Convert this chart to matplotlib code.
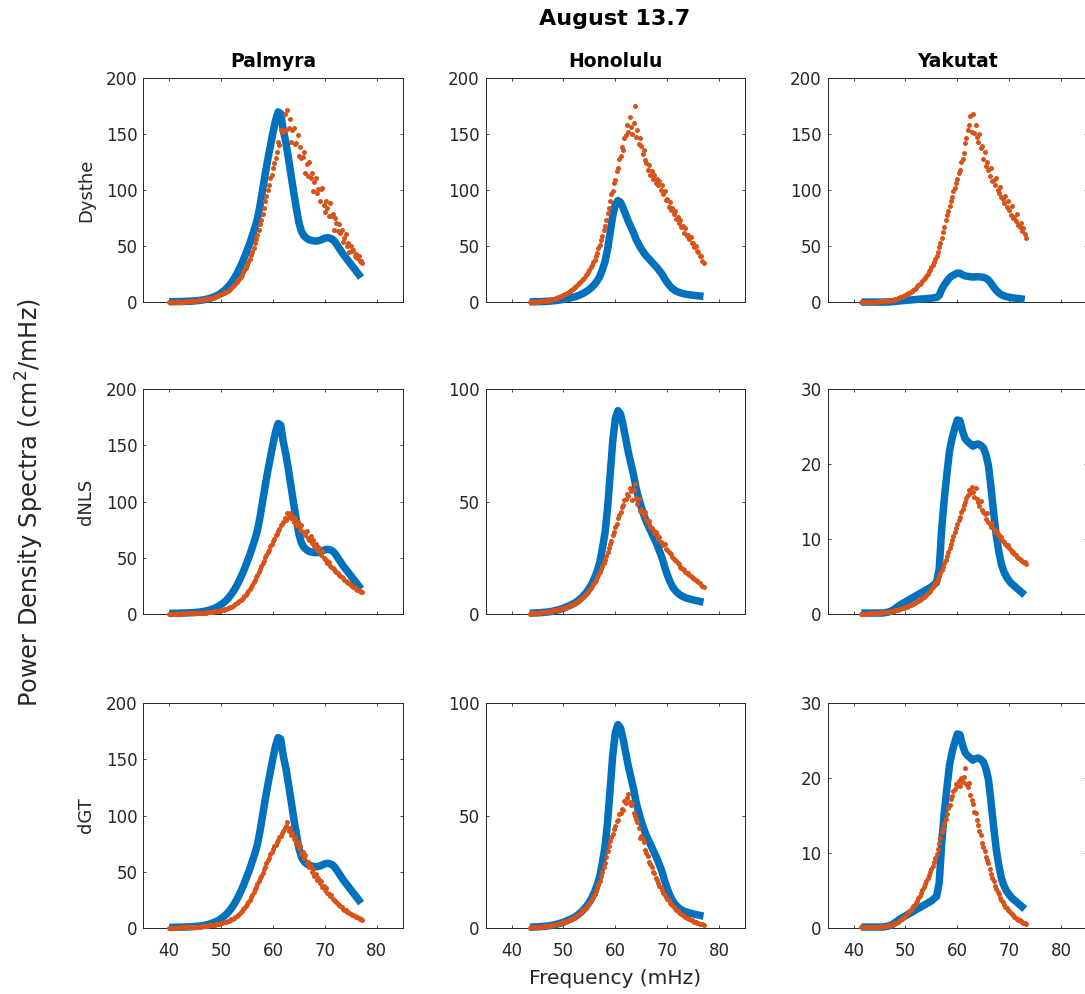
import numpy as np
import matplotlib
matplotlib.use("Agg")
import matplotlib.pyplot as plt

plt.rcParams["font.family"] = ["DejaVu Sans"]

# ---------------------------------------------------------------- labels
figure_title = "August 13.7"
stations = ["Palmyra", "Honolulu", "Yakutat"]
models = ["Dysthe", "dNLS", "dGT"]
x_label = "Frequency (mHz)"
y_label = r"Power Density Spectra (cm$^2$/mHz)"
x_ticks = [40, 50, 60, 70, 80]

# y-axis upper limit and tick spacing, rows = models, columns = stations
y_max = [[200, 200, 200],
         [200, 100, 30],
         [200, 100, 30]]
y_step = [[50, 50, 50],
          [50, 50, 10],
          [50, 50, 10]]

# ---------------------------------------------------------------- observed spectra (0.5 mHz grid)
obs_step = 0.5
palmyra_obs_start = 40.0
palmyra_obs = [
    0.4, 0.4, 0.5, 0.5, 0.6, 0.6, 0.7, 0.8, 0.9, 1.0,
    1.2, 1.4, 1.7, 2.0, 2.5, 3.0, 3.7, 4.5, 5.5, 6.7,
    8.2, 10.0, 12.0, 14.5, 17.5, 21.0, 25.0, 29.5, 34.5, 40.0,
    46.0, 52.0, 59.0, 66.0, 74.0, 86.0, 100.0, 114.0, 127.0, 139.0,
    151.0, 162.0, 169.5, 168.0, 153.0, 142.0, 128.0, 113.0, 98.0, 84.0,
    71.0, 63.0, 59.0, 57.0, 55.5, 55.0, 54.5, 54.5, 55.0, 56.0,
    57.0, 57.5, 57.0, 56.0, 53.5, 50.0, 46.5, 43.0, 40.0, 37.0,
    34.0, 31.0, 28.0, 25.0, 22.0]
honolulu_obs_start = 43.5
honolulu_obs = [
    0.3, 0.3, 0.4, 0.4, 0.5, 0.6, 0.7, 0.8, 1.0, 1.2,
    1.5, 1.8, 2.1, 2.5, 3.0, 3.5, 4.0, 4.6, 5.3, 6.2,
    7.2, 8.4, 9.8, 11.5, 13.5, 16.0, 19.0, 23.0, 29.0, 36.0,
    47.0, 62.0, 77.0, 87.0, 90.5, 89.0, 84.0, 78.0, 72.0, 67.0,
    62.0, 56.0, 51.5, 47.5, 44.0, 41.0, 38.5, 36.0, 33.5, 31.0,
    28.0, 25.0, 21.0, 17.5, 14.5, 12.2, 10.5, 9.3, 8.4, 7.7,
    7.2, 6.8, 6.5, 6.2, 5.9, 5.7, 5.4, 5.2]
yakutat_obs_start = 41.5
yakutat_obs = [
    0.1, 0.1, 0.1, 0.1, 0.1, 0.1, 0.1, 0.1, 0.1, 0.15,
    0.2, 0.3, 0.45, 0.7, 0.95, 1.2, 1.4, 1.6, 1.8, 2.0,
    2.2, 2.4, 2.6, 2.8, 3.0, 3.2, 3.4, 3.6, 3.9, 4.2,
    6.0, 11.5, 15.5, 18.8, 21.8, 23.5, 24.8, 25.9, 25.8, 24.4,
    23.4, 23.0, 22.7, 22.4, 22.6, 22.7, 22.5, 22.2, 21.3, 19.8,
    16.8, 13.5, 10.5, 8.3, 6.6, 5.6, 4.9, 4.4, 4.0, 3.7,
    3.4, 3.1, 2.8, 2.5]

# ---------------------------------------------------------------- modelled spectra (0.25 mHz grid)
model_step = 0.25

palmyra_model_start = 40.0
palmyra_dysthe = [
    0.2, 0.2, 0.2, 0.3, 0.3, 0.3, 0.4, 0.4, 0.4, 0.5, 0.5, 0.6,
    0.6, 0.7, 0.7, 0.8, 0.9, 1.0, 1.1, 1.2, 1.3, 1.5, 1.6, 1.8,
    1.9, 2.1, 2.3, 2.5, 2.7, 3.0, 3.2, 3.5, 3.8, 4.1, 4.5, 4.8,
    5.2, 5.6, 6.1, 6.5, 7.0, 7.6, 8.2, 8.8, 9.5, 10.3, 11.2, 12.0,
    13.0, 14.2, 15.4, 16.6, 18.0, 19.5, 21.0, 22.5, 24.5, 26.5, 28.5, 30.5,
    33.0, 35.5, 38.5, 42.0, 45.0, 48.5, 52.5, 56.5, 60.0, 64.0, 69.5, 73.5,
    79.0, 83.5, 90.0, 94.5, 100.0, 104.5, 110.5, 113.0, 119.5, 124.0, 128.5, 133.5,
    143.0, 140.0, 153.0, 153.5, 152.0, 168.0, 153.0, 171.0, 155.0, 163.0, 143.0, 153.0,
    155.0, 141.0, 142.0, 149.0, 130.0, 138.5, 128.5, 129.0, 134.0, 115.0, 123.5, 112.0,
    125.0, 111.0, 115.5, 99.0, 107.0, 111.0, 97.5, 101.0, 90.0, 101.0, 101.5, 87.0,
    80.0, 90.0, 84.0, 77.0, 88.0, 77.0, 78.5, 64.0, 75.0, 70.5, 63.0, 70.0,
    61.5, 64.5, 53.5, 57.5, 61.0, 50.0, 53.0, 44.5, 50.5, 46.0, 46.5, 41.5,
    43.0, 39.5, 41.0, 36.5, 36.5, 34.5]
palmyra_dnls = [
    0.1, 0.1, 0.1, 0.1, 0.15, 0.15, 0.2, 0.2, 0.2, 0.2, 0.25, 0.3,
    0.3, 0.3, 0.35, 0.4, 0.4, 0.45, 0.5, 0.55, 0.6, 0.65, 0.7, 0.75,
    0.8, 0.9, 0.95, 1.0, 1.1, 1.2, 1.35, 1.5, 1.6, 1.75, 1.9, 2.05,
    2.2, 2.4, 2.6, 2.8, 3.0, 3.3, 3.6, 3.9, 4.3, 4.8, 5.3, 5.8,
    6.3, 7.0, 7.7, 8.4, 9.2, 10.1, 11.0, 12.0, 13.0, 14.3, 15.7, 17.1,
    18.5, 20.3, 22.2, 24.0, 26.0, 28.5, 30.5, 32.5, 35.0, 37.0, 40.0, 42.5,
    45.0, 47.0, 50.5, 52.5, 55.0, 57.0, 60.5, 62.0, 65.0, 66.5, 70.0, 71.5,
    74.0, 75.5, 79.0, 80.0, 82.0, 85.5, 84.0, 89.5, 86.0, 90.0, 85.0, 87.5,
    82.0, 85.0, 79.0, 81.5, 78.0, 75.0, 79.5, 73.0, 72.5, 70.0, 74.0, 67.5,
    66.0, 69.5, 63.0, 65.5, 60.5, 62.0, 57.0, 59.5, 55.0, 52.5, 56.0, 50.0,
    49.0, 47.5, 45.5, 46.5, 43.0, 42.0, 40.5, 39.5, 38.5, 37.0, 36.0, 34.5,
    33.5, 32.5, 31.5, 30.5, 29.5, 28.5, 27.5, 27.0, 26.0, 25.0, 24.0, 23.5,
    22.5, 21.5, 21.0, 20.0, 19.5, 19.0]
palmyra_dgt = [
    0.1, 0.1, 0.15, 0.15, 0.2, 0.2, 0.25, 0.25, 0.3, 0.3, 0.35, 0.35,
    0.4, 0.45, 0.5, 0.55, 0.6, 0.65, 0.7, 0.75, 0.8, 0.9, 0.95, 1.0,
    1.1, 1.2, 1.35, 1.45, 1.6, 1.75, 1.9, 2.05, 2.2, 2.4, 2.6, 2.8,
    3.0, 3.25, 3.5, 3.75, 4.0, 4.4, 4.8, 5.1, 5.5, 6.0, 6.5, 7.0,
    7.5, 8.2, 9.0, 9.7, 10.5, 11.6, 12.7, 13.8, 15.0, 16.5, 18.0, 19.5,
    21.0, 23.0, 25.0, 27.0, 29.0, 31.5, 34.5, 36.5, 39.0, 41.5, 44.0, 46.5,
    49.0, 52.0, 54.5, 57.5, 60.0, 62.5, 65.5, 67.5, 70.0, 72.5, 74.0, 76.5,
    78.0, 80.5, 82.0, 84.5, 86.0, 89.0, 91.0, 94.5, 86.0, 88.5, 83.0, 84.5,
    79.0, 80.5, 74.5, 76.0, 71.0, 72.5, 66.0, 67.5, 62.0, 64.5, 57.5, 59.0,
    54.0, 55.5, 50.0, 52.5, 46.0, 47.5, 43.0, 44.5, 40.0, 41.5, 36.5, 37.0,
    34.0, 35.5, 31.0, 30.5, 28.5, 29.0, 25.5, 25.0, 23.5, 23.0, 21.0, 20.0,
    19.0, 18.5, 17.0, 16.0, 15.5, 14.5, 13.8, 13.0, 12.5, 11.8, 11.0, 10.4,
    9.8, 9.2, 8.6, 8.0, 7.5, 7.0]

honolulu_model_start = 43.5
honolulu_dysthe = [
    0.2, 0.25,
    0.3, 0.35, 0.4, 0.5, 0.6, 0.7, 0.8, 0.9, 1.0, 1.15, 1.35, 1.5,
    1.7, 1.95, 2.2, 2.45, 2.7, 3.1, 3.4, 3.8, 4.2, 4.7, 5.2, 5.7,
    6.3, 6.9, 7.6, 8.3, 9.0, 9.9, 10.7, 11.6, 12.5, 13.6, 14.7, 15.8,
    17.0, 18.2, 19.5, 20.7, 22.0, 23.8, 25.5, 27.3, 29.0, 31.0, 33.5, 35.5,
    38.0, 41.5, 44.0, 48.0, 51.0, 55.5, 59.0, 64.0, 68.0, 73.0, 79.5, 84.0,
    90.0, 96.0, 99.5, 106.0, 109.0, 116.5, 120.0, 128.0, 130.0, 138.0, 135.5, 146.0,
    149.0, 158.0, 152.0, 165.0, 156.0, 150.0, 160.0, 175.0, 147.0, 153.0, 141.0, 146.0,
    139.0, 132.0, 136.0, 127.0, 124.0, 118.0, 122.0, 113.0, 117.0, 110.0, 113.0, 106.0,
    110.0, 104.0, 108.0, 100.0, 104.0, 96.0, 99.0, 91.0, 92.0, 85.0, 89.0, 82.0,
    84.0, 79.0, 81.0, 74.0, 76.0, 71.0, 73.0, 67.0, 68.0, 62.0, 66.0, 59.0,
    60.0, 56.0, 58.0, 53.0, 52.5, 49.0, 50.5, 46.0, 45.0, 41.5, 41.0, 37.0,
    34.5]
honolulu_dnls = [
    0.1, 0.15,
    0.2, 0.25, 0.3, 0.35, 0.4, 0.5, 0.55, 0.6, 0.7, 0.75, 0.85, 0.9,
    1.0, 1.1, 1.25, 1.35, 1.5, 1.6, 1.75, 1.85, 2.0, 2.15, 2.3, 2.45,
    2.6, 2.8, 3.0, 3.2, 3.4, 3.7, 4.0, 4.2, 4.5, 4.9, 5.2, 5.6,
    6.0, 6.5, 7.0, 7.5, 8.0, 8.6, 9.2, 9.8, 10.5, 11.3, 12.2, 13.1,
    14.0, 15.1, 16.2, 17.4, 18.5, 19.9, 21.2, 22.6, 24.0, 25.8, 27.4, 29.3,
    31.0, 32.6, 34.9, 36.5, 38.5, 40.0, 42.5, 43.8, 45.5, 47.5, 48.5, 50.5,
    51.0, 53.5, 52.5, 56.0, 54.5, 50.5, 55.0, 58.0, 51.5, 49.0, 51.0, 46.0,
    46.5, 45.0, 44.0, 45.5, 42.0, 40.5, 41.5, 38.5, 38.0, 37.5, 36.0, 36.5,
    35.0, 33.5, 34.0, 32.0, 31.5, 30.5, 31.0, 29.0, 28.5, 27.5, 27.0, 26.5,
    25.5, 24.5, 24.0, 23.5, 22.5, 22.0, 21.0, 20.5, 20.0, 19.5, 18.8, 18.3,
    18.0, 17.3, 16.8, 16.4, 16.0, 15.5, 15.0, 14.5, 14.0, 13.5, 13.0, 12.5,
    12.0]
honolulu_dgt = [
    0.1, 0.15,
    0.2, 0.25, 0.3, 0.35, 0.4, 0.45, 0.5, 0.55, 0.6, 0.7, 0.75, 0.85,
    0.9, 1.0, 1.1, 1.2, 1.3, 1.4, 1.55, 1.65, 1.8, 1.95, 2.1, 2.25,
    2.4, 2.6, 2.85, 3.05, 3.3, 3.6, 3.9, 4.2, 4.5, 4.9, 5.3, 5.8,
    6.2, 6.7, 7.3, 7.8, 8.3, 9.0, 9.6, 10.3, 11.0, 12.0, 13.0, 14.0,
    15.0, 16.5, 18.0, 19.5, 21.0, 23.0, 25.0, 27.0, 29.0, 31.5, 34.0, 36.5,
    38.5, 40.5, 42.0, 44.0, 45.5, 47.5, 48.0, 50.5, 51.0, 53.0, 52.5, 56.5,
    55.5, 58.0, 59.5, 56.0, 54.5, 55.5, 51.0, 50.0, 48.5, 47.0, 44.5, 40.0,
    41.0, 39.5, 38.0, 34.5, 33.5, 32.0, 29.5, 28.5, 27.0, 25.0, 24.5, 22.0,
    21.5, 20.0, 18.5, 18.0, 17.0, 15.5, 14.8, 13.8, 13.0, 12.2, 11.2, 10.6,
    10.0, 9.3, 8.6, 8.1, 7.6, 7.1, 6.6, 6.1, 5.7, 5.3, 4.9, 4.5,
    4.2, 3.9, 3.6, 3.3, 3.0, 2.8, 2.5, 2.3, 2.1, 1.9, 1.7, 1.6,
    1.4]

yakutat_model_start = 41.5
yakutat_dysthe = [
    0.2, 0.2,
    0.2, 0.25, 0.25, 0.3, 0.3, 0.35, 0.4, 0.45, 0.5, 0.55, 0.6, 0.65,
    0.7, 0.8, 0.85, 0.9, 1.0, 1.15, 1.3, 1.45, 1.6, 1.85, 2.1, 2.35,
    2.6, 3.0, 3.4, 3.8, 4.2, 4.8, 5.4, 5.9, 6.5, 7.2, 7.9, 8.6,
    9.3, 10.2, 11.0, 11.9, 12.8, 14.0, 15.1, 16.3, 17.5, 19.0, 20.5, 22.0,
    23.5, 25.5, 27.5, 29.0, 31.0, 33.5, 36.0, 38.5, 41.0, 45.0, 49.0, 53.0,
    57.0, 62.5, 67.0, 73.0, 78.0, 81.5, 86.0, 90.0, 94.0, 99.5, 102.0, 106.5,
    110.0, 115.0, 118.0, 124.5, 128.0, 133.0, 142.0, 146.5, 153.0, 158.0, 166.0, 152.0,
    168.0, 151.0, 158.0, 147.0, 143.0, 150.0, 137.0, 139.0, 128.0, 134.0, 121.0, 125.0,
    118.0, 112.0, 120.0, 108.0, 109.0, 104.0, 111.0, 100.0, 97.0, 103.0, 94.0, 92.0,
    88.0, 95.0, 85.0, 90.0, 82.0, 78.0, 86.0, 75.0, 76.0, 72.0, 79.0, 69.0,
    67.0, 71.0, 63.0, 66.0, 61.0, 57.0]
yakutat_dnls = [
    0.0, 0.0,
    0.02, 0.03, 0.04, 0.05, 0.05, 0.06, 0.08, 0.09, 0.1, 0.11, 0.13, 0.14,
    0.15, 0.16, 0.18, 0.19, 0.2, 0.22, 0.25, 0.28, 0.3, 0.34, 0.38, 0.41,
    0.45, 0.5, 0.55, 0.6, 0.65, 0.71, 0.77, 0.84, 0.9, 0.97, 1.05, 1.12,
    1.2, 1.28, 1.37, 1.46, 1.55, 1.66, 1.77, 1.89, 2.0, 2.13, 2.27, 2.4,
    2.55, 2.73, 2.9, 3.1, 3.3, 3.55, 3.8, 4.05, 4.3, 4.7, 5.1, 5.5,
    5.9, 6.3, 6.8, 7.2, 7.7, 8.2, 8.8, 9.3, 9.8, 10.4, 10.9, 11.5,
    12.0, 12.6, 13.0, 13.6, 14.0, 14.6, 14.9, 15.5, 15.9, 16.6, 16.2, 17.0,
    16.3, 15.6, 16.8, 15.4, 15.0, 14.4, 15.1, 13.9, 13.6, 13.3, 12.7, 13.5,
    12.3, 12.0, 11.6, 12.1, 11.3, 10.9, 11.1, 10.6, 10.5, 10.0, 10.2, 9.7,
    9.6, 9.3, 9.0, 9.2, 8.8, 8.5, 8.3, 8.2, 8.0, 7.8, 7.6, 7.5,
    7.3, 7.2, 7.0, 6.9, 6.9, 6.7]
yakutat_dgt = [
    0.05, 0.05,
    0.05, 0.06, 0.07, 0.07, 0.08, 0.08, 0.09, 0.09, 0.1, 0.11, 0.13, 0.14,
    0.15, 0.17, 0.19, 0.2, 0.22, 0.25, 0.28, 0.31, 0.35, 0.41, 0.47, 0.53,
    0.6, 0.7, 0.8, 0.9, 1.0, 1.15, 1.3, 1.45, 1.6, 1.8, 2.0, 2.2,
    2.4, 2.6, 2.85, 3.05, 3.3, 3.6, 3.95, 4.3, 4.6, 5.0, 5.4, 5.8,
    6.2, 6.6, 7.0, 7.4, 7.8, 8.3, 8.8, 9.3, 9.8, 10.5, 11.3, 12.0,
    12.8, 13.3, 14.0, 14.6, 15.2, 16.0, 16.4, 17.2, 17.6, 18.3, 18.5, 19.2,
    19.0, 19.6, 18.9, 20.0, 19.5, 20.2, 21.3, 19.2, 18.8, 19.4, 17.8, 17.1,
    16.6, 15.5, 15.3, 14.4, 13.8, 13.0, 12.4, 11.3, 10.8, 10.2, 9.4, 9.1,
    8.6, 7.8, 7.2, 6.6, 6.2, 5.6, 5.2, 4.8, 4.5, 4.0, 3.7, 3.4,
    3.1, 2.8, 2.6, 2.4, 2.2, 2.0, 1.8, 1.65, 1.5, 1.35, 1.2, 1.1,
    1.0, 0.9, 0.8, 0.7, 0.6, 0.55]

observed = [(palmyra_obs_start, palmyra_obs),
            (honolulu_obs_start, honolulu_obs),
            (yakutat_obs_start, yakutat_obs)]
modelled = [[(palmyra_model_start, palmyra_dysthe),
             (honolulu_model_start, honolulu_dysthe),
             (yakutat_model_start, yakutat_dysthe)],
            [(palmyra_model_start, palmyra_dnls),
             (honolulu_model_start, honolulu_dnls),
             (yakutat_model_start, yakutat_dnls)],
            [(palmyra_model_start, palmyra_dgt),
             (honolulu_model_start, honolulu_dgt),
             (yakutat_model_start, yakutat_dgt)]]


def freq_grid(start, step, values):
    return start + step * np.arange(len(values))


# ---------------------------------------------------------------- figure
W, H = 1085, 994
fig = plt.figure(figsize=(W / 100, H / 100), dpi=100)

BLUE = "#0072BD"
ORANGE = "#D95319"
AXC = "#262626"

col_left = [143.3, 485.7, 827.7]
row_top = [77.7, 389.3, 703.3]
ax_w, ax_h = 259.3, 224.5

for r in range(3):
    for c in range(3):
        ax = fig.add_axes([col_left[c] / W, 1 - (row_top[r] + ax_h) / H,
                           ax_w / W, ax_h / H])
        o_start, o_vals = observed[c]
        m_start, m_vals = modelled[r][c]
        ax.plot(freq_grid(o_start, obs_step, o_vals), o_vals, color=BLUE,
                lw=5.4, solid_capstyle="butt", solid_joinstyle="round",
                clip_on=False, zorder=3)
        ax.plot(freq_grid(m_start, model_step, m_vals), m_vals, ls="none",
                marker="o", ms=3.6, mfc=ORANGE, mec="none",
                clip_on=False, zorder=4)

        ax.set_xlim(35, 85)
        ax.set_ylim(0, y_max[r][c])
        ax.set_xticks(x_ticks)
        ax.set_yticks(np.arange(0, y_max[r][c] + 1, y_step[r][c]))
        ax.tick_params(direction="in", length=2.0, width=0.6, top=True,
                       right=True, labelsize=12, colors=AXC)
        ax.tick_params(axis="x", pad=10)
        ax.tick_params(axis="y", pad=4.3)
        if r < 2:
            ax.tick_params(axis="x", labelbottom=False)
        for sp in ax.spines.values():
            sp.set_color(AXC)
            sp.set_linewidth(0.7)
            sp.set_zorder(2)
        if r == 0:
            ax.set_title(stations[c], fontsize=13.5, fontweight="bold",
                         pad=8, color="black")
        if c == 0:
            fig.text(86 / W, 1 - (row_top[r] + ax_h / 2) / H, models[r],
                     rotation=90, ha="center", va="center", fontsize=13,
                     color=AXC)

fig.text(615 / W, 1 - 25 / H, figure_title, ha="center", va="baseline",
         fontsize=16, fontweight="bold", color="black")
fig.text(615.5 / W, 1 - 978 / H, x_label, ha="center", va="center",
         fontsize=14.5, color=AXC)
fig.text(30 / W, 1 - 503 / H, y_label, rotation=90, ha="center",
         va="center", fontsize=17.3, color=AXC)

fig.savefig("out.png", dpi=100)
